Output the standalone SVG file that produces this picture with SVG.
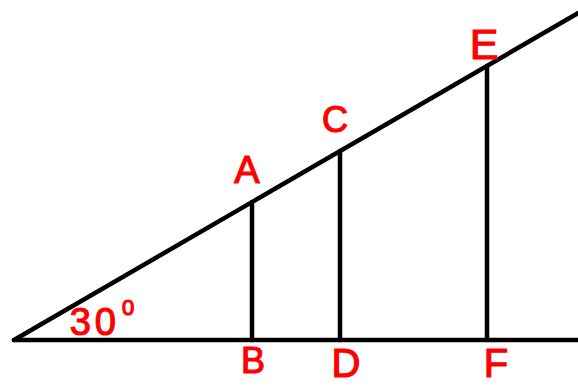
<svg xmlns="http://www.w3.org/2000/svg" width="578" height="386" viewBox="0 0 578 386">
<style>
.ln{stroke:#000;stroke-width:4.5;stroke-linecap:round;fill:none}
.lb{fill:#ff0000;stroke:#ff0000;stroke-width:1.2;font-family:"Liberation Sans",Arial,sans-serif;text-anchor:middle}
</style>
<rect width="578" height="386" fill="#fff"/>
<g id="lines">
<line class="ln" x1="14" y1="340" x2="580" y2="340"/>
<line class="ln" x1="14" y1="340" x2="580" y2="12"/>
<line class="ln" x1="252" y1="202" x2="252" y2="340"/>
<line class="ln" x1="340" y1="151" x2="340" y2="340"/>
<line class="ln" x1="487" y1="66" x2="487" y2="340"/>
</g>
<g id="labels">
<text class="lb" x="247" y="183" font-size="38">A</text>
<text class="lb" x="335" y="132" font-size="36">C</text>
<text class="lb" x="484" y="59" font-size="43">E</text>
<text class="lb" x="253" y="373" font-size="36">B</text>
<text class="lb" x="346" y="377" font-size="40">D</text>
<text class="lb" x="496" y="377" font-size="40">F</text>
<text class="lb" x="104" y="335" font-size="38" letter-spacing="4">30<tspan font-size="22" dx="2" dy="-20">0</tspan></text>
</g>
</svg>
